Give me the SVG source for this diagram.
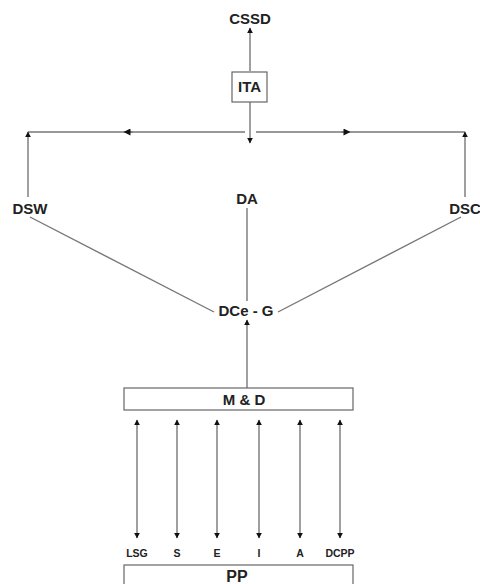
<svg xmlns="http://www.w3.org/2000/svg" width="480" height="584" viewBox="0 0 480 584">
  <defs>
    <marker id="head" viewBox="0 0 10 10" refX="9" refY="5" markerWidth="6" markerHeight="6" markerUnits="userSpaceOnUse" orient="auto-start-reverse">
      <path d="M0,0 L10,5 L0,10 Z" fill="#111"/>
    </marker>
    <marker id="mid" viewBox="0 0 10 10" refX="5" refY="5" markerWidth="9" markerHeight="7" markerUnits="userSpaceOnUse" orient="auto">
      <path d="M0,0 L10,5 L0,10 Z" fill="#111"/>
    </marker>
  </defs>
  <style>
    .lbl { font-family: "Liberation Sans", Arial, sans-serif; font-weight: bold; font-size: 15px; fill: #222; text-anchor: middle; }
    .sm { font-size: 10.5px; }
    .box { fill: #fff; stroke: #666; stroke-width: 1.2; }
    .ln { fill: none; stroke: #777; stroke-width: 1.4; }
    .arr { marker-end: url(#head); }
    .bi { marker-start: url(#head); marker-end: url(#head); }
  </style>
  <rect width="480" height="584" fill="#fff"/>

  <g id="connectors">
    <!-- ITA up to CSSD -->
    <path class="ln arr" d="M250,71 V28"/>
    <!-- ITA down to split -->
    <path class="ln arr" d="M250,102 V143"/>
    <!-- split to DSW side -->
    <path class="ln" d="M245,132 H28"/>
    <path class="ln" d="M133,132 H127" marker-end="url(#mid)"/>
    <path class="ln arr" d="M28,197 V132"/>
    <!-- split to DSC side -->
    <path class="ln" d="M256,132 H465"/>
    <path class="ln" d="M341,132 H347" marker-end="url(#mid)"/>
    <path class="ln arr" d="M465,197 V132"/>
    <!-- DCe - G branches -->
    <path class="ln" d="M30,217 L214,312"/>
    <path class="ln" d="M461,217 L278,312"/>
    <path class="ln" d="M247,301 V208"/>
    <!-- M & D up to DCe - G -->
    <path class="ln arr" d="M247,388 V320"/>
    <!-- M & D to PP inputs -->
    <path class="ln bi" d="M137,420 V538"/>
    <path class="ln bi" d="M177,420 V538"/>
    <path class="ln bi" d="M217,420 V538"/>
    <path class="ln bi" d="M259,420 V538"/>
    <path class="ln bi" d="M300,420 V538"/>
    <path class="ln bi" d="M340,420 V538"/>
  </g>

  <g id="cssd"><text class="lbl" x="250" y="24">CSSD</text></g>
  <g id="ita">
    <rect class="box" x="232" y="72" width="35" height="30"/>
    <text class="lbl" x="249.5" y="92">ITA</text>
  </g>
  <g id="dsw"><text class="lbl" x="30" y="214">DSW</text></g>
  <g id="da"><text class="lbl" x="247" y="204">DA</text></g>
  <g id="dsc"><text class="lbl" x="465" y="214">DSC</text></g>
  <g id="dce-g"><text class="lbl" x="246" y="316">DCe - G</text></g>
  <g id="md">
    <rect class="box" x="124" y="388" width="229" height="22"/>
    <text class="lbl" x="244" y="405">M &amp; D</text>
  </g>
  <g id="inputs">
    <text class="lbl sm" x="137" y="557">LSG</text>
    <text class="lbl sm" x="177" y="557">S</text>
    <text class="lbl sm" x="217" y="557">E</text>
    <text class="lbl sm" x="259" y="557">I</text>
    <text class="lbl sm" x="300" y="557">A</text>
    <text class="lbl sm" x="340" y="557">DCPP</text>
  </g>
  <g id="pp">
    <rect class="box" x="124" y="565" width="229" height="30"/>
    <text class="lbl" x="237" y="582" style="font-size:16px">PP</text>
  </g>
</svg>
